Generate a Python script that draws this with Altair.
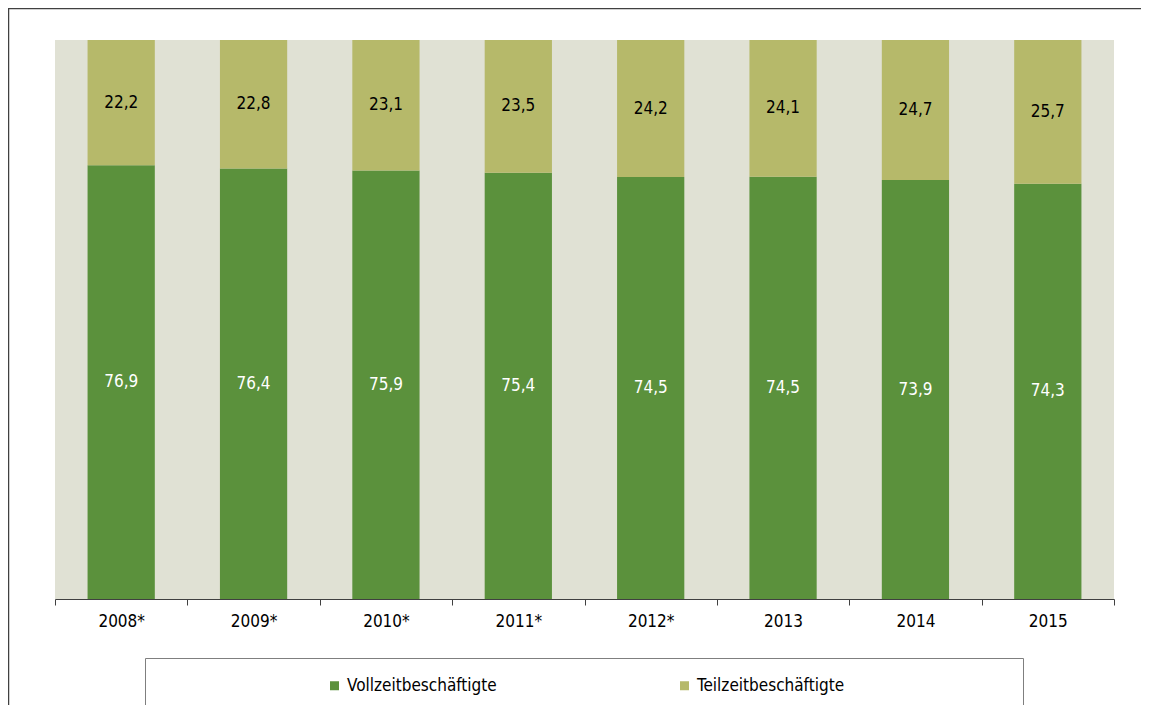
import altair as alt
import pandas as pd

years = ["2008*", "2009*", "2010*", "2011*", "2012*", "2013", "2014", "2015"]
vollzeit = [76.9, 76.4, 75.9, 75.4, 74.5, 74.5, 73.9, 74.3]
teilzeit = [22.2, 22.8, 23.1, 23.5, 24.2, 24.1, 24.7, 25.7]
series = ["Vollzeitbeschäftigte", "Teilzeitbeschäftigte"]
colors = ["#5B913C", "#B6B96A"]

FONT = "DejaVu Sans Condensed, DejaVu Sans"

rows = []
for i, y in enumerate(years):
    rows.append({"year": y, "series": series[0], "order": 0, "value": vollzeit[i]})
    rows.append({"year": y, "series": series[1], "order": 1, "value": teilzeit[i]})
df = pd.DataFrame(rows)

W, H = 1059, 559

x_enc = alt.X(
    "year:N",
    sort=years,
    scale=alt.Scale(paddingInner=0, paddingOuter=0),
    axis=alt.Axis(
        title=None, labelAngle=0, labelFont=FONT, labelFontSize=17,
        labelColor="#000000", domainColor="#404040", tickColor="#404040",
        tickSize=6, tickBand="extent", labelPadding=8, grid=False, zindex=1,
    ),
)

base = alt.Chart(df).transform_stack(
    stack="value", groupby=["year"], as_=["y0", "y1"], offset="normalize",
    sort=[alt.SortField("order", order="ascending")],
).transform_calculate(
    mid="(datum.y0 + datum.y1) / 2",
    label="replace(format(datum.value, '.1f'), '.', ',')",
)

yscale = alt.Scale(domain=[0, 1], nice=False)

bars = base.mark_bar(width={"band": 0.508}).encode(
    x=x_enc,
    y=alt.Y("y0:Q", scale=yscale, axis=None),
    y2="y1:Q",
    color=alt.Color(
        "series:N",
        scale=alt.Scale(domain=series, range=colors),
        legend=alt.Legend(
            title=None, orient="none", direction="horizontal",
            legendX=271, legendY=637, symbolType="square", symbolSize=81,
            symbolStrokeWidth=0, labelFont=FONT, labelFontSize=17,
            labelColor="#000000", labelOffset=4, columnPadding=179,
            padding=0, labelLimit=400,
        ),
    ),
)

labels = base.mark_text(font=FONT, fontSize=17, baseline="middle").encode(
    x=alt.X("year:N", sort=years),
    y=alt.Y("mid:Q", scale=yscale, axis=None),
    text="label:N",
    fill=alt.condition(alt.datum.order == 0, alt.value("#FFFFFF"), alt.value("#000000")),
)

one = pd.DataFrame({"k": [0]})

frame = alt.Chart(one).mark_rect(fill="transparent", stroke="#404040", strokeWidth=1.5).encode(
    x=alt.value(-46.5), x2=alt.value(1300), y=alt.value(-31.5), y2=alt.value(900)
)

legend_box = alt.Chart(one).mark_rect(fill="white", stroke="#7F7F7F", strokeWidth=1).encode(
    x=alt.value(90.5), x2=alt.value(968.5), y=alt.value(618.5), y2=alt.value(671.5)
)

chart = alt.layer(frame, legend_box, bars, labels).properties(
    width=W, height=H,
    background="white",
    padding={"left": 47, "top": 32, "right": 27, "bottom": 106},
    autosize=alt.AutoSizeParams(type="none"),
).configure_view(
    fill="#E0E1D4", stroke=None
)

chart.save("out.html", embed_options={"renderer": "svg", "actions": False})
